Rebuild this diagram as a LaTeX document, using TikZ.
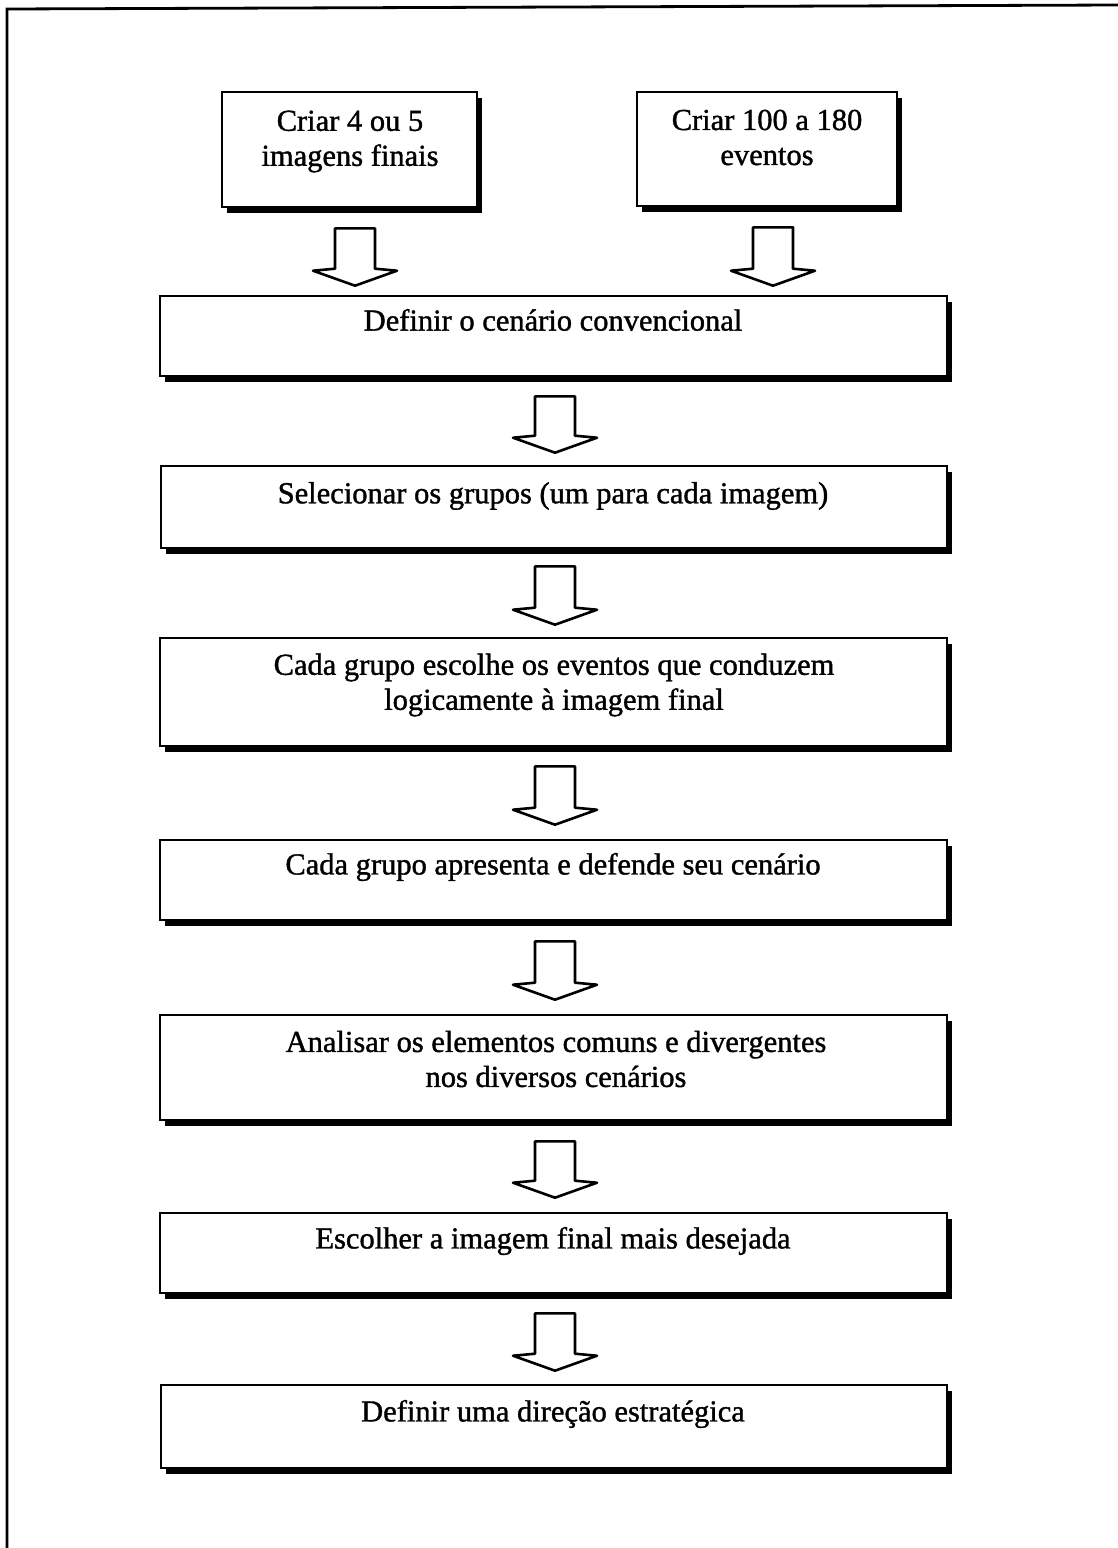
\documentclass[tikz,border=0pt]{standalone}
\usepackage{fontspec}
\setmainfont{Liberation Serif}[BoldFont={Liberation Serif}, BoldFeatures={FakeBold=1.2}]
\usetikzlibrary{calc,shadows}

% hollow block arrow: #1 = top of the stem, #2 = tip
\newcommand{\hollowarrow}[2]{%
  \draw[arrowline] let \p1=#1, \p2=#2 in
    (\x2-20pt,\y1) -- (\x2+20pt,\y1) -- (\x2+20pt,\y2+17pt)
    -- (\x2+42pt,\y2+15pt) -- (\x2,\y2) -- (\x2-42pt,\y2+15pt)
    -- (\x2-20pt,\y2+17pt) -- cycle;}

\begin{document}
\begin{tikzpicture}[x=1pt,y=-1pt,
  stepbox/.style={draw=black, line width=2.6pt, fill=white, inner sep=0pt,
    drop shadow={shadow xshift=5pt, shadow yshift=-6pt, fill=black, opacity=1}},
  boxtext/.style={font=\fontsize{30.5}{35}\selectfont\bfseries, align=center, inner sep=0pt},
  arrowline/.style={draw=black, line width=2.6pt, line join=round, fill=white},
  frameline/.style={line width=2.8pt}]

% page extent
\useasboundingbox (0,0) rectangle (1118,1548);

% open outer frame (left and top edges)
\draw[frameline] (7,1548) -- (7,9) -- (1118,5);

% starting boxes
\node[stepbox, minimum width=255pt, minimum height=115pt] (ba) at (349.5,149.5) {};
\node[boxtext] (ta) at (350,141.5) {Criar 4 ou 5\\imagens finais};
\node[stepbox, minimum width=260pt, minimum height=114pt] (bb) at (767,149) {};
\node[boxtext] (tb) at (767,137.5) {Criar 100 a 180\\eventos};

% main sequence of steps
\node[stepbox, minimum width=787pt, minimum height=80pt] (b1) at (553.5,336) {};
\node[boxtext] (t1) at (553,320) {Definir o cenário convencional};

\node[stepbox, minimum width=786pt, minimum height=82pt] (b2) at (554,507) {};
\node[boxtext] (t2) at (553,496) {Selecionar os grupos (um para cada imagem)};

\node[stepbox, minimum width=787pt, minimum height=108pt] (b3) at (553.5,692) {};
\node[boxtext] (t3) at (554,685) {Cada grupo escolhe os eventos que conduzem\\logicamente à imagem final};

\node[stepbox, minimum width=787pt, minimum height=80pt] (b4) at (553.5,880) {};
\node[boxtext] (t4) at (553,867) {Cada grupo apresenta e defende seu cenário};

\node[stepbox, minimum width=787pt, minimum height=105pt] (b5) at (553.5,1067.5) {};
\node[boxtext] (t5) at (556,1059) {Analisar os elementos comuns e divergentes\\nos diversos cenários};

\node[stepbox, minimum width=787pt, minimum height=80pt] (b6) at (553.5,1253) {};
\node[boxtext] (t6) at (553,1241) {Escolher a imagem final mais desejada};

\node[stepbox, minimum width=786pt, minimum height=83pt] (b7) at (554,1426.5) {};
\node[boxtext] (t7) at (553,1414) {Definir uma direção estratégica};

% block arrows between steps
\hollowarrow{($(ba.south)+(0,20)$)}{($(b1.north -| 355,0)+(0,-9)$)}
\hollowarrow{($(bb.south)+(0,20)$)}{($(b1.north -| 773,0)+(0,-9)$)}
\hollowarrow{($(b1.south)+(0,19)$)}{($(b2.north -| 555,0)+(0,-12)$)}
\hollowarrow{($(b2.south)+(0,17)$)}{($(b3.north -| 555,0)+(0,-12)$)}
\hollowarrow{($(b3.south)+(0,19)$)}{($(b4.north -| 555,0)+(0,-14)$)}
\hollowarrow{($(b4.south)+(0,20)$)}{($(b5.north -| 555,0)+(0,-14)$)}
\hollowarrow{($(b5.south)+(0,20)$)}{($(b6.north -| 555,0)+(0,-14)$)}
\hollowarrow{($(b6.south)+(0,19)$)}{($(b7.north -| 555,0)+(0,-13)$)}

\end{tikzpicture}
\end{document}
